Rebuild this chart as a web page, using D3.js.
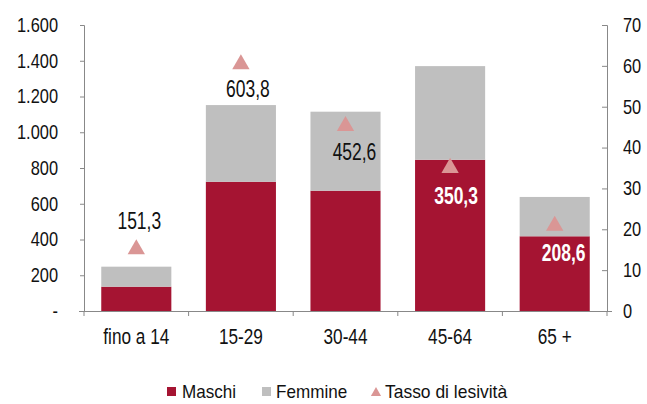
<!DOCTYPE html>
<html><head><meta charset="utf-8">
<script src="https://cdn.jsdelivr.net/npm/d3@7/dist/d3.min.js"></script>
<style>
body{margin:0;background:#fff;}
svg text{font-family:"Liberation Sans Narrow","Arial Narrow","Liberation Sans",Arial,sans-serif;fill:#111;}
</style></head><body>
<svg id="c" width="647" height="404"></svg>
<script>
const categories = ["fino a 14","15-29","30-44","45-64","65 +"];
const maschi = [136, 723, 673, 846, 418];
const femmine = [112, 429, 442, 524, 220];
const tasso = [15.13, 60.38, 45.26, 35.03, 20.86];
const tassoLabels = ["151,3","603,8","452,6","350,3","208,6"];
const leftTicks = [0,200,400,600,800,1000,1200,1400,1600];
const rightTicks = [0,10,20,30,40,50,60,70];

const svg = d3.select("#c");
const x0 = 84, x1 = 607, yTop = 25, yBot = 311;
const x = d3.scaleBand().domain(categories).range([x0,x1]).paddingInner(0.33).paddingOuter(0.165);
const yL = d3.scaleLinear().domain([0,1600]).range([yBot,yTop]);
const yR = d3.scaleLinear().domain([0,70]).range([yBot,yTop]);
const fmt = d3.formatLocale({decimal:",",thousands:".",grouping:[3],currency:["","€"]});
const fmtL = v => v===0 ? "-" : fmt.format(",")(v);

const cMas = "#A51432", cFem = "#BFBFBF", cTri = "#DA9695";

function squeeze(sel, k){
  sel.each(function(){
    const t = d3.select(this);
    const ax = +(t.attr("x")||0);
    const prev = t.attr("transform") || "";
    t.attr("transform", `${prev} translate(${ax},0) scale(${k},1) translate(${-ax},0)`);
  });
}

// bars
const g = svg.append("g");
categories.forEach((c,i)=>{
  g.append("rect").attr("x",x(c)).attr("width",x.bandwidth())
    .attr("y",yL(maschi[i])).attr("height",yL(0)-yL(maschi[i])).attr("fill",cMas);
  g.append("rect").attr("x",x(c)).attr("width",x.bandwidth())
    .attr("y",yL(maschi[i]+femmine[i])).attr("height",yL(maschi[i])-yL(maschi[i]+femmine[i])).attr("fill",cFem);
});

// axes
const axL = svg.append("g").attr("transform",`translate(${x0},0)`)
  .call(d3.axisLeft(yL).tickValues(leftTicks).tickFormat(fmtL).tickSize(4).tickPadding(22));
axL.selectAll("text").style("font-size","20px").call(squeeze,0.82);
const axR = svg.append("g").attr("transform",`translate(${x1},0)`)
  .call(d3.axisRight(yR).tickValues(rightTicks).tickSize(-5).tickPadding(16));
axR.selectAll("text").style("font-size","20px").call(squeeze,0.82);
const axB = svg.append("g").attr("transform",`translate(0,${yBot})`)
  .call(d3.axisBottom(x).tickSize(0).tickPadding(18));
axB.selectAll("text").style("font-size","21.5px").call(squeeze,0.8);
// category boundary ticks
const bounds = d3.range(categories.length+1).map(i=> x0 + i*(x1-x0)/categories.length);
svg.append("g").selectAll("line").data(bounds).join("line")
  .attr("x1",d=>d).attr("x2",d=>d).attr("y1",yBot).attr("y2",yBot+5).attr("stroke","#888");
[axL,axR,axB].forEach(a=>{a.selectAll("path,line").attr("stroke","#888");});
axB.select("path").attr("d",`M${x0-5},0.5H${x1+5}`);

// triangles
const tri = d3.symbol().type(d3.symbolTriangle).size(130);
categories.forEach((c,i)=>{
  const cx = x(c)+x.bandwidth()/2, cy = yR(tasso[i]);
  svg.append("path").attr("d",tri()).attr("transform",`translate(${cx},${cy})`).attr("fill",cTri);
});
// labels
const lab = [
  {dx:3, dy:-20, col:"#111", bold:false},
  {dx:7, dy:33, col:"#111", bold:false},
  {dx:9, dy:34, col:"#111", bold:false},
  {dx:6, dy:36, col:"#fff", bold:true},
  {dx:9, dy:35, col:"#fff", bold:true}
];
categories.forEach((c,i)=>{
  const cx = x(c)+x.bandwidth()/2, cy = yR(tasso[i]);
  svg.append("text").attr("x",cx+lab[i].dx).attr("y",cy+lab[i].dy)
    .attr("text-anchor","middle").style("font-size","23px")
    .style("font-weight",lab[i].bold?"bold":"normal").style("fill",lab[i].col)
    .text(tassoLabels[i]).call(squeeze,0.76);
});

// legend
const leg = svg.append("g");
const ly = 392;
leg.append("rect").attr("x",167).attr("y",ly-5).attr("width",9).attr("height",9).attr("fill",cMas);
leg.append("text").attr("x",182).attr("y",ly+6).style("font-size","18px").text("Maschi").call(squeeze,0.95);
leg.append("rect").attr("x",262).attr("y",ly-5).attr("width",9).attr("height",9).attr("fill",cFem);
leg.append("text").attr("x",276).attr("y",ly+6).style("font-size","18px").text("Femmine").call(squeeze,0.95);
leg.append("path").attr("d",d3.symbol().type(d3.symbolTriangle).size(45)()).attr("transform",`translate(376,${ly+1})`).attr("fill",cTri);
leg.append("text").attr("x",385).attr("y",ly+6).style("font-size","18px").text("Tasso di lesività").call(squeeze,0.97);
</script>
</body></html>
